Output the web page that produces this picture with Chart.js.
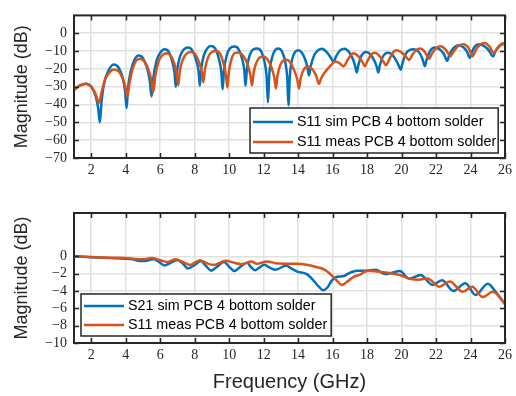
<!DOCTYPE html>
<html><head><meta charset="utf-8">
<script src="https://cdn.jsdelivr.net/npm/chart.js@4/dist/chart.umd.min.js"></script>
<style>
html,body{margin:0;padding:0;background:#fff;}
#wrap{position:relative;width:516px;height:396px;overflow:hidden;background:#fff}
canvas{position:absolute;left:0}
</style></head><body>
<div id="wrap">
<canvas id="topChart" width="516" height="190" style="top:0px"></canvas>
<canvas id="botChart" width="516" height="206" style="top:190px"></canvas>
</div>
<script>
// ---------- data ----------
const xTicks = [2,4,6,8,10,12,14,16,18,20,22,24,26];
const topYTicks = [-70,-60,-50,-40,-30,-20,-10,0];
const botYTicks = [-10,-8,-6,-4,-2,0];
const legendTop = ['S11 sim PCB 4 bottom solder','S11 meas PCB 4 bottom solder'];
const legendBot = ['S21 sim PCB 4 bottom solder','S11 meas PCB 4 bottom solder'];

const s11SimF = [1.0,1.3,1.7,2.0,2.25,2.4,2.5,2.6,2.75,3.0,3.3,3.6,3.85,3.97,4.05,4.13,4.3,4.5,4.75,5.0,5.25,5.4,5.5,5.6,5.8,6.0,6.25,6.5,6.7,6.83,6.9,6.98,7.15,7.35,7.6,7.85,8.08,8.22,8.3,8.38,8.55,8.75,8.95,9.2,9.42,9.55,9.62,9.7,9.87,10.05,10.3,10.55,10.77,10.88,10.95,11.03,11.2,11.4,11.62,11.85,12.05,12.17,12.25,12.33,12.48,12.66,12.86,13.05,13.25,13.37,13.44,13.52,13.67,13.85,14.02,14.22,14.42,14.55,14.63,14.72,14.9,15.1,15.38,15.65,15.88,16.05,16.2,16.45,16.7,16.95,17.2,17.32,17.4,17.48,17.65,17.95,18.2,18.45,18.58,18.65,18.73,18.9,19.2,19.45,19.7,19.85,19.95,20.05,20.25,20.7,21.0,21.2,21.35,21.45,21.65,21.93,22.2,22.45,22.65,22.78,23.0,23.3,23.6,23.8,23.95,24.08,24.25,24.45,24.75,25.05,25.3,25.45,25.7,26.0];
const s11SimDb = [-31.5,-29.5,-28.3,-30,-35,-42,-50,-38,-28,-21,-17.6,-19.5,-26,-33,-42,-31,-21,-15,-12.5,-14,-20,-27,-35.5,-25,-15,-11,-9,-10.5,-16,-22,-30,-21,-13,-9.3,-8,-9.5,-15,-21,-29.5,-20,-12,-8.3,-7.2,-8.8,-15,-22,-31.5,-21,-12,-8.5,-7.5,-9,-15,-21,-29.5,-20,-12,-9,-8.6,-10,-16,-24,-38.8,-23,-14,-9.5,-8.6,-10,-16,-25,-40.4,-24,-14,-10.3,-9.5,-11,-15,-19.5,-23.7,-19,-13,-10,-8.75,-10.5,-13.5,-16,-13,-9.5,-8.7,-10.5,-15,-19,-22,-18.5,-13,-10.5,-12,-16,-19.5,-22,-18.5,-13.5,-11,-12,-15.5,-18.5,-20.5,-17,-11.5,-9,-10.5,-14,-18.5,-15,-10,-8,-9,-11.5,-15.5,-12,-8.5,-6.7,-8,-10.5,-13.8,-10.5,-7.5,-6.2,-7,-9.5,-13,-10,-7,-5.8];

const s11MeasF = [1.0,1.3,1.7,2.0,2.25,2.45,2.6,2.8,3.05,3.3,3.6,3.85,4.0,4.1,4.2,4.4,4.6,4.8,5.05,5.3,5.48,5.6,5.7,5.9,6.1,6.35,6.6,6.82,6.96,7.05,7.14,7.35,7.55,7.8,8.05,8.28,8.42,8.5,8.6,8.8,9.0,9.25,9.5,9.7,9.82,9.9,9.98,10.15,10.35,10.56,10.8,11.05,11.22,11.33,11.42,11.6,11.8,12.0,12.2,12.45,12.62,12.71,12.8,12.98,13.15,13.34,13.55,13.78,13.95,14.05,14.15,14.35,14.6,14.85,15.05,15.2,15.35,15.6,15.9,16.15,16.4,16.63,16.9,17.2,17.5,17.75,17.88,18.0,18.2,18.45,18.7,18.95,19.1,19.25,19.45,19.7,19.95,20.2,20.45,20.6,20.85,21.1,21.35,21.6,21.75,22.0,22.25,22.55,22.84,23.0,23.3,23.6,23.9,24.12,24.3,24.55,24.8,25.1,25.35,25.55,25.8,26.0];
const s11MeasDb = [-32,-29.5,-28.3,-30,-34,-39,-33,-26,-22,-20.3,-21.5,-26,-31,-35.5,-29,-20,-15.5,-14.3,-15.5,-20,-26,-33,-25,-16,-12.5,-11.3,-12.5,-17,-23,-29.2,-21,-14,-11.3,-10.5,-12,-17,-22,-27.5,-20,-13,-10.6,-10,-12,-18,-24,-30.5,-22,-14,-11,-10.8,-12.5,-17,-23,-29.3,-22,-16,-13.5,-13,-14.5,-19,-25,-31,-24,-17.5,-15.2,-14.9,-16.5,-21,-26,-31,-25,-20,-18.6,-20.5,-24,-28.4,-25,-21.3,-18,-15.9,-16.8,-18.6,-14.5,-11.3,-13,-16.5,-18.5,-16,-12.5,-11,-12.5,-16,-18,-15.5,-11.5,-9.6,-10.5,-12.5,-15,-12.5,-9.5,-8.5,-10.5,-14.3,-11.5,-8.5,-7.3,-9,-12.9,-10.5,-7,-6.2,-8.5,-12.9,-9.5,-6.5,-5.5,-7.5,-11.2,-8.5,-6,-5.5];

const s21SimF = [1.0,2.0,3.0,4.0,4.4,4.8,5.2,5.6,5.9,6.25,6.6,7.0,7.3,7.6,8.0,8.35,8.65,8.95,9.3,9.7,10.0,10.3,10.65,11.04,11.25,11.5,11.75,12.04,12.35,12.7,13.0,13.3,13.6,13.95,14.5,14.9,15.2,15.45,15.7,15.95,16.25,16.6,17.0,17.4,17.95,18.5,19.05,19.45,19.9,20.45,21.1,21.8,22.35,23.0,23.7,24.3,25.0,25.5,26.0];
const s21SimDb = [0,-0.1,-0.2,-0.27,-0.35,-0.55,-0.5,-0.35,-0.6,-1.05,-0.75,-0.43,-0.8,-1.4,-1.0,-0.55,-1.1,-1.65,-1.2,-0.66,-1.2,-1.7,-1.2,-0.75,-1.2,-1.6,-1.3,-0.98,-1.3,-1.56,-1.3,-1.05,-1.4,-1.76,-2.05,-2.8,-3.5,-3.9,-3.6,-2.8,-2.35,-2.3,-1.9,-1.65,-1.65,-1.55,-2.05,-1.9,-1.7,-2.6,-2.15,-3.3,-2.75,-4.0,-3.1,-4.45,-3.15,-4.2,-5.5];

const s11MeasBotF = [1.0,2.0,3.0,4.0,4.5,5.0,5.5,6.0,6.4,6.9,7.3,7.75,8.3,8.7,9.1,9.8,10.3,10.7,11.3,11.6,12.2,12.7,13.2,13.95,14.5,15.0,15.5,15.9,16.2,16.55,16.8,17.2,17.6,18.05,18.6,19.2,19.9,20.5,21.0,21.5,22.2,22.8,23.55,24.1,24.7,25.3,26.0];
const s11MeasBotDb = [0,-0.08,-0.15,-0.2,-0.3,-0.35,-0.2,-0.45,-0.65,-0.35,-0.65,-1.0,-0.45,-0.8,-1.0,-0.5,-0.75,-0.9,-0.6,-0.85,-0.59,-0.8,-0.85,-0.86,-0.98,-1.2,-1.5,-2.1,-2.7,-3.3,-3.0,-2.4,-2.1,-1.65,-1.75,-1.9,-2.15,-2.6,-2.7,-2.55,-3.5,-2.9,-4.1,-3.5,-4.7,-4.1,-5.5];

// ---------- styling ----------
const BLUE = '#0072BD', ORANGE = '#D95319', AX = '#262626', GRID = '#e1e1e1';
const SERIF = '"Liberation Serif", "Times New Roman", serif';
const SANS = '"Liberation Sans", Arial, Helvetica, sans-serif';

const pts = (fs, vs) => fs.map((f, i) => ({x: f, y: vs[i]}));
const fmt = v => (v < 0 ? '\u2212' + Math.abs(v) : String(v));

const framePlugin = {
  id: 'frame',
  afterDatasetsDraw(chart) {
    const {ctx, chartArea: a, scales} = chart;
    ctx.save();
    ctx.strokeStyle = AX;
    ctx.lineWidth = 1.5;
    ctx.beginPath();
    scales.x.ticks.forEach(t => {
      const x = Math.round(scales.x.getPixelForValue(t.value)) + 0.5;
      ctx.moveTo(x, a.bottom); ctx.lineTo(x, a.bottom - 5);
      ctx.moveTo(x, a.top); ctx.lineTo(x, a.top + 5);
    });
    scales.y.ticks.forEach(t => {
      const y = Math.round(scales.y.getPixelForValue(t.value)) + 0.5;
      ctx.moveTo(a.left, y); ctx.lineTo(a.left + 5, y);
      ctx.moveTo(a.right, y); ctx.lineTo(a.right - 5, y);
    });
    ctx.stroke();
    ctx.lineWidth = 2;
    ctx.strokeRect(a.left, a.top, a.right - a.left, a.bottom - a.top);
    ctx.restore();
  }
};

const boxLegendPlugin = {
  id: 'boxLegend',
  afterDraw(chart, args, o) {
    if (!o || !o.labels) return;
    const ctx = chart.ctx;
    ctx.save();
    ctx.font = '14.3px ' + SANS;
    let maxW = 0;
    o.labels.forEach(l => { maxW = Math.max(maxW, ctx.measureText(l).width); });
    const w = 47 + maxW + o.padR;
    const x = o.left, y = o.top;
    ctx.fillStyle = '#fff';
    ctx.fillRect(x, y, w, o.height);
    ctx.strokeStyle = AX; ctx.lineWidth = 1.5;
    ctx.strokeRect(x, y, w, o.height);
    o.labels.forEach((l, i) => {
      const ry = y + o.rows[i];
      ctx.strokeStyle = o.colors[i]; ctx.lineWidth = 2.6;
      ctx.beginPath(); ctx.moveTo(x + 3, ry); ctx.lineTo(x + 43, ry); ctx.stroke();
      ctx.fillStyle = '#000'; ctx.textBaseline = 'middle'; ctx.textAlign = 'left';
      ctx.fillText(l, x + 47, ry + 0.5);
    });
    ctx.restore();
  }
};

function makeChart(id, datasets, yMin, yMax, yTicks, topPad, xHeight, legendOpts, xTitle) {
  return new Chart(document.getElementById(id), {
    type: 'line',
    data: {datasets},
    plugins: [framePlugin, boxLegendPlugin],
    options: {
      responsive: false, animation: false, devicePixelRatio: 1,
      layout: {padding: {left: 0, right: 8, top: topPad, bottom: 0}},
      elements: {point: {radius: 0}, line: {borderWidth: 2.5, cubicInterpolationMode: 'monotone', borderJoinStyle: 'round'}},
      plugins: {legend: {display: false}, tooltip: {enabled: false}, boxLegend: legendOpts},
      scales: {
        x: {
          type: 'linear', min: 1, max: 26,
          afterBuildTicks: s => { s.ticks = xTicks.map(v => ({value: v})); },
          afterFit: s => { s.height = xHeight; },
          grid: {color: GRID, lineWidth: 1.5, drawTicks: false},
          border: {display: false},
          ticks: {font: {family: SERIF, size: 14}, color: AX, padding: 4, maxRotation: 0, autoSkip: false, callback: v => fmt(v)},
          title: xTitle ? {display: true, text: xTitle, font: {family: SANS, size: 20}, color: AX, padding: {top: 0, bottom: 2}} : {display: false}
        },
        y: {
          type: 'linear', min: yMin, max: yMax,
          afterBuildTicks: s => { s.ticks = yTicks.map(v => ({value: v})); },
          afterFit: s => { s.width = 74; },
          grid: {color: GRID, lineWidth: 1.5, drawTicks: false},
          border: {display: false},
          ticks: {font: {family: SERIF, size: 14}, color: AX, padding: 7, autoSkip: false, callback: v => fmt(v)},
          title: {display: true, text: 'Magnitude (dB)', font: {family: SANS, size: 18}, color: AX, padding: {top: 11, bottom: 0}}
        }
      }
    }
  });
}

makeChart('topChart', [
  {label: legendTop[0], data: pts(s11SimF, s11SimDb), borderColor: BLUE, order: 1},
  {label: legendTop[1], data: pts(s11MeasF, s11MeasDb), borderColor: ORANGE, order: 0}
], -70, 10, topYTicks, 10, 32,
  {labels: legendTop, colors: [BLUE, ORANGE], left: 250, top: 108, height: 45, rows: [14, 34], padR: 2}, null);

makeChart('botChart', [
  {label: legendBot[0], data: pts(s21SimF, s21SimDb), borderColor: BLUE, order: 1},
  {label: legendBot[1], data: pts(s11MeasBotF, s11MeasBotDb), borderColor: ORANGE, order: 0}
], -10, 5, botYTicks, 23, 53,
  {labels: legendBot, colors: [BLUE, ORANGE], left: 81, top: 104, height: 42, rows: [12, 31], padR: 4}, 'Frequency (GHz)');
</script>
</body></html>
